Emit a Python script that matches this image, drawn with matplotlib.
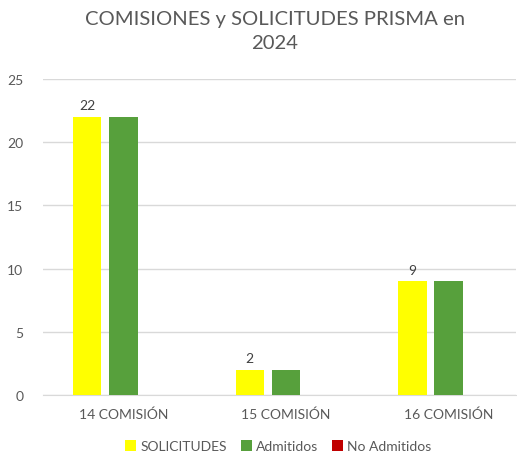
import matplotlib.pyplot as plt
import numpy as np

plt.rcParams['font.family'] = ['Lato', 'DejaVu Sans']

comisiones = ["14 COMISIÓN", "15 COMISIÓN", "16 COMISIÓN"]
solicitudes = [22, 2, 9]
admitidos = [22, 2, 9]
no_admitidos = [0, 0, 0]

gris = '#595959'
fig = plt.figure(figsize=(5.17, 4.52), dpi=100)
ax = fig.add_axes([0.083, 0.124, 0.915, 0.699])

x = np.arange(len(comisiones))
w = 0.175
b1 = ax.bar(x - 0.222, solicitudes, w, color='#FFFF00', label='SOLICITUDES', zorder=3)
ax.bar(x, admitidos, w, color='#57A03C', label='Admitidos', zorder=3)
ax.bar(x + 0.222, no_admitidos, w, color='#C00000', label='No Admitidos', zorder=3)
ax.bar_label(b1, padding=4, color='#404040', fontsize=10)

ax.set_ylim(0, 25)
ax.set_yticks(range(0, 26, 5))
ax.set_xlim(-0.495, 2.416)
ax.set_xticks(x)
ax.set_xticklabels(comisiones)
ax.grid(axis='y', color='#d9d9d9', lw=1, zorder=0)
for s in ['top', 'right', 'left']:
    ax.spines[s].set_visible(False)
ax.spines['bottom'].set_color('#d9d9d9')
ax.tick_params(length=0, colors=gris, labelsize=10, pad=9)
ax.tick_params(axis='y', pad=14)

fig.suptitle("COMISIONES y SOLICITUDES PRISMA en\n2024", x=0.532, y=0.975, fontsize=14.6,
             color=gris, linespacing=1.45)
fig.legend(loc='lower center', bbox_to_anchor=(0.538, -0.03), ncol=3, frameon=False,
           fontsize=10, labelcolor=gris, handlelength=0.8, handleheight=0.8,
           handletextpad=0.3, columnspacing=1.0)

fig.savefig('out.png', dpi=100)
